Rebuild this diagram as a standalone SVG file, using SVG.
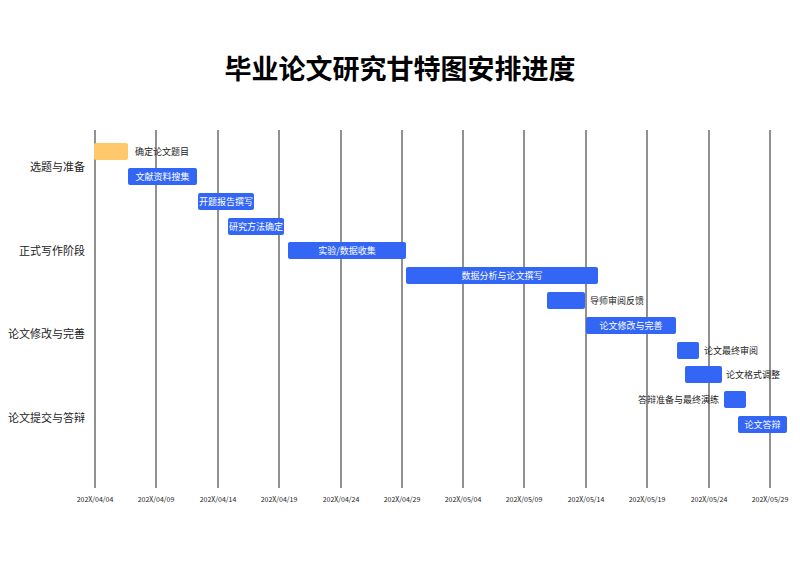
<svg xmlns="http://www.w3.org/2000/svg" width="800" height="566" viewBox="0 0 800 566">
<style>
text{font-family:"Noto Sans CJK SC","Noto Sans",sans-serif}
.g{stroke:#555;stroke-width:1.3}
.b{fill:#3366F5}
.o{fill:#FFC96B}
.in{fill:#fff;font-size:9px;text-anchor:middle}
.out{fill:#222;font-size:9px}
.cat{fill:#222;font-size:11px;text-anchor:end}
.ax{fill:#222;font-size:7px;text-anchor:middle}
</style>
<rect width="800" height="566" fill="#fff"/>
<text x="400" y="79" font-size="27" font-weight="bold" text-anchor="middle" fill="#000">毕业论文研究甘特图安排进度</text>
<g id="grid">
<line class="g" x1="95" y1="130" x2="95" y2="488"/><line class="g" x1="156" y1="130" x2="156" y2="488"/><line class="g" x1="218" y1="130" x2="218" y2="488"/><line class="g" x1="279" y1="130" x2="279" y2="488"/><line class="g" x1="341" y1="130" x2="341" y2="488"/><line class="g" x1="402" y1="130" x2="402" y2="488"/><line class="g" x1="463" y1="130" x2="463" y2="488"/><line class="g" x1="524" y1="130" x2="524" y2="488"/><line class="g" x1="586" y1="130" x2="586" y2="488"/><line class="g" x1="647" y1="130" x2="647" y2="488"/><line class="g" x1="709" y1="130" x2="709" y2="488"/><line class="g" x1="770" y1="130" x2="770" y2="488"/>
</g>
<g id="axis">
<text class="ax" x="95" y="502">202X/04/04</text><text class="ax" x="156" y="502">202X/04/09</text><text class="ax" x="218" y="502">202X/04/14</text><text class="ax" x="279" y="502">202X/04/19</text><text class="ax" x="341" y="502">202X/04/24</text><text class="ax" x="402" y="502">202X/04/29</text><text class="ax" x="463" y="502">202X/05/04</text><text class="ax" x="524" y="502">202X/05/09</text><text class="ax" x="586" y="502">202X/05/14</text><text class="ax" x="647" y="502">202X/05/19</text><text class="ax" x="709" y="502">202X/05/24</text><text class="ax" x="770" y="502">202X/05/29</text>
</g>
<g id="categories">
<text class="cat" x="85" y="171">选题与准备</text>
<text class="cat" x="85" y="255">正式写作阶段</text>
<text class="cat" x="85" y="338">论文修改与完善</text>
<text class="cat" x="85" y="422">论文提交与答辩</text>
</g>
<g id="t1"><rect class="o" x="94" y="143" width="34" height="17" rx="2"/><text class="out" x="135" y="155">确定论文题目</text></g>
<g id="t2"><rect class="b" x="128" y="168" width="69" height="17" rx="2"/><text class="in" x="162.5" y="180">文献资料搜集</text></g>
<g id="t3"><rect class="b" x="198" y="193" width="56" height="17" rx="2"/><text class="in" x="226" y="205">开题报告撰写</text></g>
<g id="t4"><rect class="b" x="228" y="218" width="56" height="17" rx="2"/><text class="in" x="256" y="230">研究方法确定</text></g>
<g id="t5"><rect class="b" x="288" y="242" width="118" height="17" rx="2"/><text class="in" x="347" y="254">实验/数据收集</text></g>
<g id="t6"><rect class="b" x="406" y="267" width="192" height="17" rx="2"/><text class="in" x="502" y="279">数据分析与论文撰写</text></g>
<g id="t7"><rect class="b" x="547" y="292" width="38" height="17" rx="2"/><text class="out" x="590" y="304">导师审阅反馈</text></g>
<g id="t8"><rect class="b" x="586" y="317" width="90" height="17" rx="2"/><text class="in" x="631" y="329">论文修改与完善</text></g>
<g id="t9"><rect class="b" x="677" y="342" width="22" height="17" rx="2"/><text class="out" x="704" y="354">论文最终审阅</text></g>
<g id="t10"><rect class="b" x="685" y="366" width="37" height="17" rx="2"/><text class="out" x="726" y="378">论文格式调整</text></g>
<g id="t11"><rect class="b" x="724" y="391" width="22" height="17" rx="2"/><text class="out" x="719" y="403" text-anchor="end">答辩准备与最终演练</text></g>
<g id="t12"><rect class="b" x="738" y="416" width="49" height="17" rx="2"/><text class="in" x="762.5" y="428">论文答辩</text></g>
</svg>
